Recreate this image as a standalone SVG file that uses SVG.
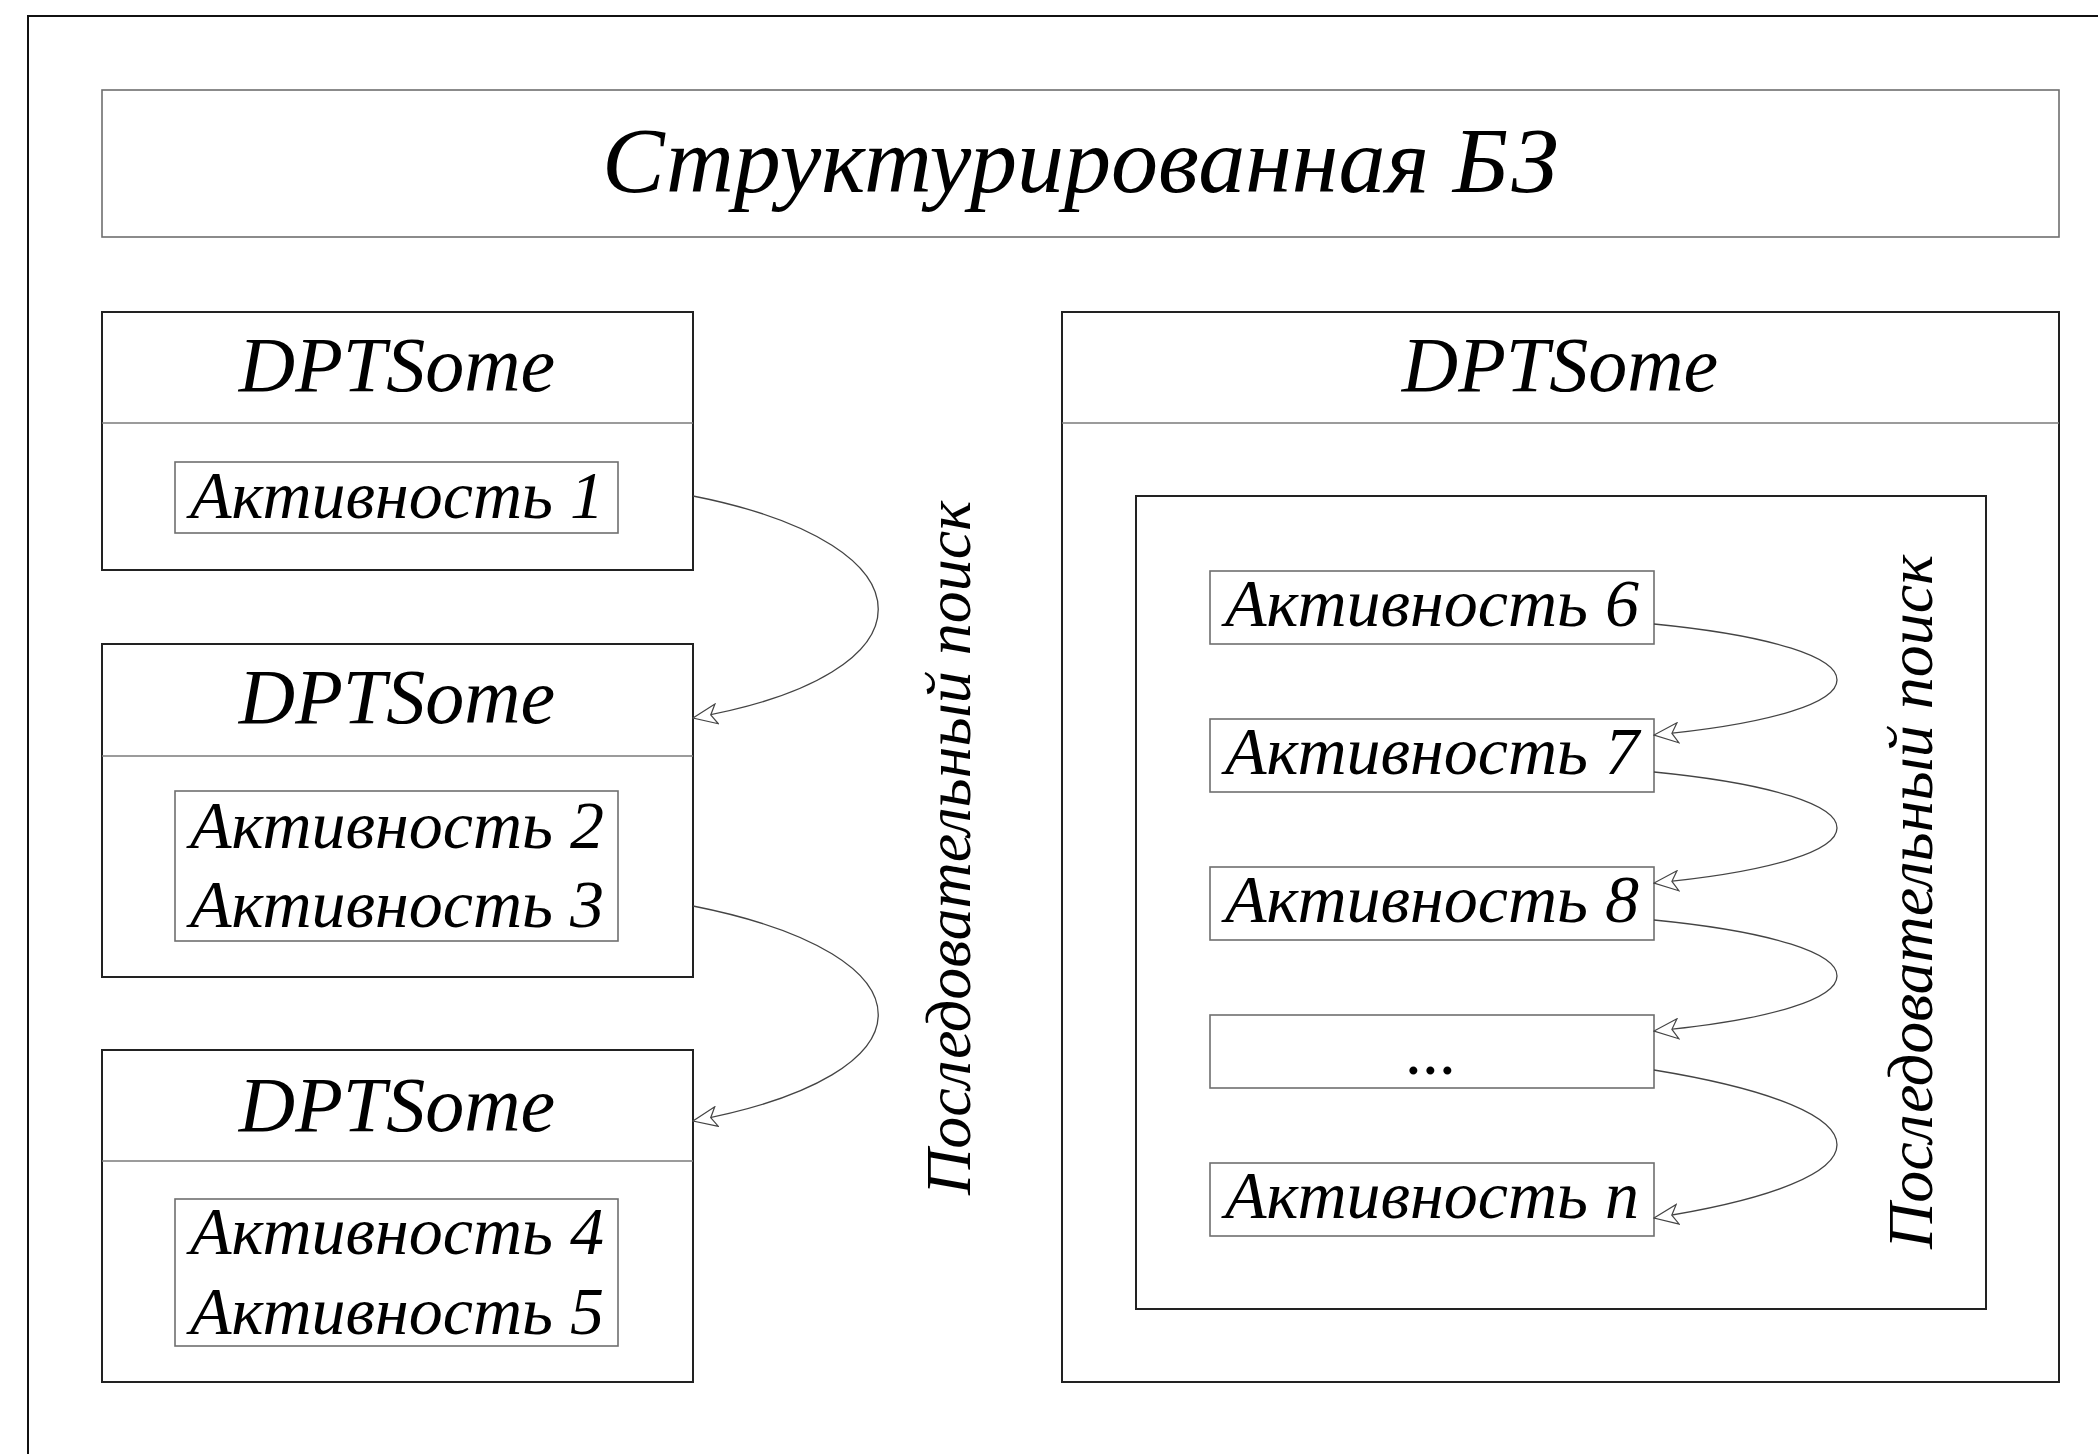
<svg xmlns="http://www.w3.org/2000/svg" width="2098" height="1454" viewBox="0 0 2098 1454">
<defs>
<style>
.frame{fill:none;stroke:#111;stroke-width:2}
.box{fill:#fff;stroke:#222;stroke-width:2}
.thin{fill:#fff;stroke:#6f6f6f;stroke-width:1.6}
.div{stroke:#7a7a7a;stroke-width:1.6}
.t{font-family:"Liberation Serif","Times New Roman",serif;font-style:italic;fill:#000;text-anchor:middle}
.conn{fill:none;stroke:#444;stroke-width:1.3}
</style>
<marker id="arr" markerUnits="userSpaceOnUse" viewBox="0 0 26 22" refX="25" refY="11" markerWidth="26" markerHeight="22" orient="auto">
<path d="M1,1 L25,11 L1,21 L7,11 Z" fill="#fff" stroke="#444" stroke-width="1.2"/>
</marker>
</defs>
<rect width="2098" height="1454" fill="#fff"/>
<path class="frame" d="M28,1454 V16 H2098"/>

<g id="title">
<rect class="thin" x="102" y="90" width="1957" height="147"/>
<text class="t" x="1080" y="192" font-size="94">Структурированная БЗ</text>
</g>

<g id="dpt1">
<rect class="box" x="102" y="312" width="591" height="258"/>
<line class="div" x1="102" y1="423" x2="693" y2="423"/>
<text class="t" x="397" y="391" font-size="78">DPTSome</text>
<rect class="thin" x="175" y="462" width="443" height="71"/>
<text class="t" x="397" y="518" font-size="68">Активность 1</text>
</g>

<g id="dpt2">
<rect class="box" x="102" y="644" width="591" height="333"/>
<line class="div" x1="102" y1="756" x2="693" y2="756"/>
<text class="t" x="397" y="723" font-size="78">DPTSome</text>
<rect class="thin" x="175" y="791" width="443" height="150"/>
<text class="t" x="397" y="848" font-size="68">Активность 2</text>
<text class="t" x="397" y="927" font-size="68">Активность 3</text>
</g>

<g id="dpt3">
<rect class="box" x="102" y="1050" width="591" height="332"/>
<line class="div" x1="102" y1="1161" x2="693" y2="1161"/>
<text class="t" x="397" y="1131" font-size="78">DPTSome</text>
<rect class="thin" x="175" y="1199" width="443" height="147"/>
<text class="t" x="397" y="1254" font-size="68">Активность 4</text>
<text class="t" x="397" y="1334" font-size="68">Активность 5</text>
</g>

<g id="label-left">
<text class="t" transform="translate(970,848) rotate(-90)" font-size="64">Последовательный поиск</text>
</g>

<g id="dpt-right">
<rect class="box" x="1062" y="312" width="997" height="1070"/>
<line class="div" x1="1062" y1="423" x2="2059" y2="423"/>
<text class="t" x="1560" y="391" font-size="78">DPTSome</text>
<rect class="box" x="1136" y="496" width="850" height="813"/>
</g>

<g id="a6"><rect class="thin" x="1210" y="571" width="444" height="73"/><text class="t" x="1432" y="626" font-size="68">Активность 6</text></g>
<g id="a7"><rect class="thin" x="1210" y="719" width="444" height="73"/><text class="t" x="1432" y="774" font-size="68">Активность 7</text></g>
<g id="a8"><rect class="thin" x="1210" y="867" width="444" height="73"/><text class="t" x="1432" y="922" font-size="68">Активность 8</text></g>
<g id="adots"><rect class="thin" x="1210" y="1015" width="444" height="73"/><text class="t" x="1432" y="1074" font-size="68">...</text></g>
<g id="an"><rect class="thin" x="1210" y="1163" width="444" height="73"/><text class="t" x="1432" y="1218" font-size="68">Активность n</text></g>

<g id="label-right">
<text class="t" transform="translate(1932,902) rotate(-90)" font-size="64">Последовательный поиск</text>
</g>

<g id="connectors">
<path class="conn" marker-end="url(#arr)" d="M693,496 C940,545 940,675 693,718"/>
<path class="conn" marker-end="url(#arr)" d="M693,906 C940,955 940,1075 693,1121"/>
<path class="conn" marker-end="url(#arr)" d="M1654,624 C1898,648 1898,712 1654,735"/>
<path class="conn" marker-end="url(#arr)" d="M1654,772 C1898,796 1898,860 1654,883"/>
<path class="conn" marker-end="url(#arr)" d="M1654,920 C1898,944 1898,1008 1654,1031"/>
<path class="conn" marker-end="url(#arr)" d="M1654,1070 C1898,1110 1898,1180 1654,1218"/>
</g>
</svg>
